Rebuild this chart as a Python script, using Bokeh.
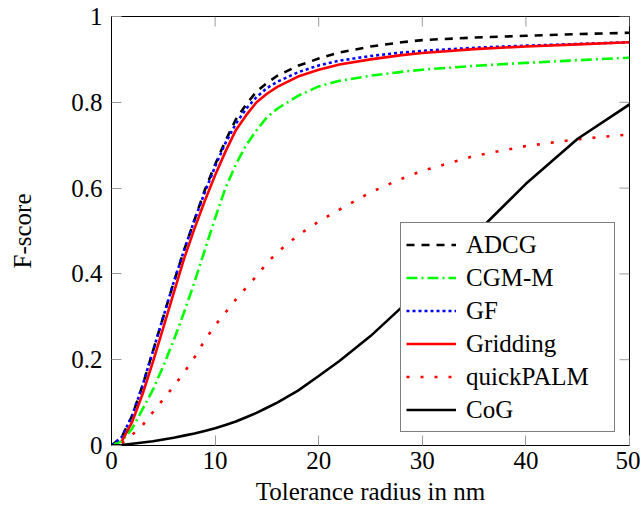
from bokeh.plotting import figure
from bokeh.models import Legend, LegendItem, FixedTicker, Range1d
from bokeh.embed import file_html
from bokeh.resources import INLINE

nan = float("nan")

x = [0, 1, 2, 3, 4, 5, 6, 7, 8, 9, 10, 11, 12, 13, 14, 15, 16, 18, 20, 22, 25, 28, 30, 35, 40, 45, 50]

adcg = [0, 0.02, 0.07, 0.14, 0.22, 0.30, 0.38, 0.455, 0.525, 0.595, 0.655, 0.71, 0.76, 0.795, 0.825,
        0.845, 0.862, 0.885, 0.902, 0.916, 0.93, 0.94, 0.945, 0.951, 0.955, 0.959, 0.962]
cgmm = [0, 0.01, 0.04, 0.085, 0.13, 0.185, 0.245, 0.31, 0.38, 0.455, 0.53, 0.6, 0.655, 0.70, 0.735,
        0.765, 0.785, 0.815, 0.837, 0.85, 0.862, 0.871, 0.876, 0.885, 0.892, 0.898, 0.904]
gf = [0, 0.02, 0.07, 0.14, 0.22, 0.30, 0.38, 0.455, 0.525, 0.59, 0.65, 0.705, 0.75, 0.785, 0.812,
      0.833, 0.848, 0.87, 0.886, 0.897, 0.908, 0.916, 0.92, 0.927, 0.932, 0.936, 0.94]
gridding = [nan, 0.01, 0.055, 0.12, 0.195, 0.275, 0.355, 0.435, 0.505, 0.57, 0.63, 0.685, 0.735, 0.77, 0.80,
            0.82, 0.836, 0.86, 0.876, 0.888, 0.9, 0.91, 0.915, 0.924, 0.93, 0.935, 0.94]
quickpalm = [nan, 0.005, 0.025, 0.047, 0.078, 0.108, 0.138, 0.17, 0.205, 0.245, 0.28, 0.31, 0.34, 0.368, 0.395,
             0.425, 0.45, 0.49, 0.522, 0.55, 0.59, 0.622, 0.64, 0.675, 0.698, 0.714, 0.725]
cog = [0, 0.001, 0.004, 0.007, 0.01, 0.014, 0.018, 0.023, 0.028, 0.034, 0.04, 0.048, 0.056, 0.066, 0.076,
       0.088, 0.1, 0.128, 0.162, 0.197, 0.255, 0.322, 0.37, 0.49, 0.61, 0.715, 0.795]

x_ticks = [0, 10, 20, 30, 40, 50]
x_tick_labels = ["0", "10", "20", "30", "40", "50"]
y_ticks = [0, 0.2, 0.4, 0.6, 0.8, 1.0]
y_tick_labels = ["0", "0.2", "0.4", "0.6", "0.8", "1"]

X_MIN, X_MAX = 0, 50
Y_MIN, Y_MAX = 0, 1

FONT = "Liberation Serif"
FS = "25px"

W, H = 640, 510
BL, BR, BT, BB = 111, 11, 16, 65

p = figure(width=W, height=H, output_backend="svg", toolbar_location=None,
           x_range=Range1d(X_MIN, X_MAX), y_range=Range1d(Y_MIN, Y_MAX),
           min_border_left=BL, min_border_right=BR, min_border_top=BT, min_border_bottom=BB,
           x_axis_label="Tolerance radius in nm", y_axis_label="F-score")
p.grid.visible = False
p.outline_line_color = "black"
p.outline_line_width = 1
p.background_fill_color = "white"
p.border_fill_color = "white"

for ax, ticks, labels in ((p.xaxis[0], x_ticks, x_tick_labels), (p.yaxis[0], y_ticks, y_tick_labels)):
    ax.ticker = FixedTicker(ticks=ticks)
    ax.major_label_overrides = {t: l for t, l in zip(ticks, labels)}
    ax.major_tick_in = 10
    ax.major_tick_out = 0
    ax.major_tick_line_color = "#999999"
    ax.minor_tick_line_color = None
    ax.axis_line_color = "black"
    ax.major_label_text_font = FONT
    ax.major_label_text_font_size = FS
    ax.major_label_text_color = "black"
    ax.axis_label_text_font = FONT
    ax.axis_label_text_font_size = FS
    ax.axis_label_text_font_style = "normal"
    ax.axis_label_text_color = "black"

p.xaxis[0].major_label_standoff = 6
p.xaxis[0].axis_label_standoff = 6
p.yaxis[0].major_label_standoff = 9
p.yaxis[0].axis_label_standoff = 32

# mirrored inner ticks on the top and right sides (10 px long, converted to data units)
frame_w = W - BL - BR
frame_h = H - BT - BB
dy = 10 * (Y_MAX - Y_MIN) / frame_h
dx = 10 * (X_MAX - X_MIN) / frame_w
p.segment(x0=x_ticks, y0=[Y_MAX] * len(x_ticks), x1=x_ticks, y1=[Y_MAX - dy] * len(x_ticks),
          line_color="#999999", line_width=1)
p.segment(x0=[X_MAX] * len(y_ticks), y0=y_ticks, x1=[X_MAX - dx] * len(y_ticks), y1=y_ticks,
          line_color="#999999", line_width=1)

LW = 2.6
r1 = p.line(x, adcg, line_color="black", line_width=LW, line_dash="8 7")
r2 = p.line(x, cgmm, line_color="#00ff00", line_width=LW, line_dash="11 4 2 4")
r3 = p.line(x, gf, line_color="#0000ff", line_width=LW, line_dash="3 3")
r4 = p.line(x, gridding, line_color="#ff0000", line_width=LW)
r5 = p.line(x, quickpalm, line_color="#ff0000", line_width=LW, line_dash="3 11")
r6 = p.line(x, cog, line_color="black", line_width=LW)

legend = Legend(items=[
    LegendItem(label="ADCG", renderers=[r1]),
    LegendItem(label="CGM-M", renderers=[r2]),
    LegendItem(label="GF", renderers=[r3]),
    LegendItem(label="Gridding", renderers=[r4]),
    LegendItem(label="quickPALM", renderers=[r5]),
    LegendItem(label="CoG", renderers=[r6]),
], location=(289, 13))
legend.margin = 0
legend.padding = 5
legend.spacing = 0
legend.glyph_width = 50
legend.glyph_height = 33
legend.label_height = 33
legend.label_width = 143
legend.label_standoff = 10
legend.label_text_font = FONT
legend.label_text_font_size = FS
legend.label_text_color = "black"
legend.border_line_color = "black"
legend.border_line_width = 1
legend.background_fill_color = "white"
legend.background_fill_alpha = 1
p.add_layout(legend, "center")

open("out.html", "w").write(file_html(p, INLINE))
